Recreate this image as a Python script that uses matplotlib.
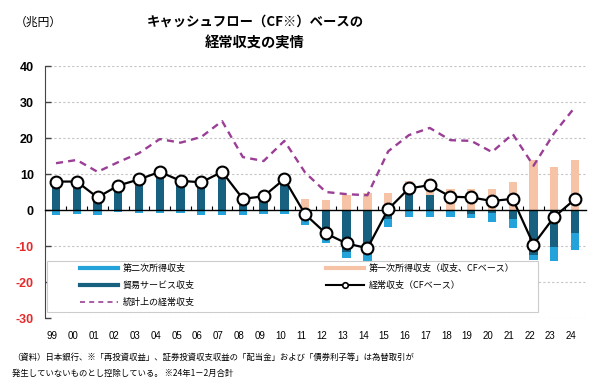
"""Cash-flow based current account chart (Japan)."""
import matplotlib
matplotlib.use("Agg")
import matplotlib.pyplot as plt
import matplotlib.transforms as mtransforms
from matplotlib.lines import Line2D
from matplotlib.patches import Rectangle
import numpy as np

plt.rcParams["font.family"] = ["Noto Sans CJK JP", "DejaVu Sans"]

years = ["99", "00", "01", "02", "03", "04", "05", "06", "07", "08", "09", "10", "11",
         "12", "13", "14", "15", "16", "17", "18", "19", "20", "21", "22", "23", "24"]

# 第一次所得収支（収支、CFベース）
primary_cf = [0, 0, 0, 0, 0, 0, 0, 0, 0, 0, 0, 0, 3.0,
              2.8, 4.2, 4.7, 4.8, 3.6, 4.6, 5.6, 5.7, 5.7, 7.9, 13.9, 12.0, 13.9]
# 貿易サービス収支
trade = [8.2, 8.2, 3.8, 7.1, 8.8, 10.9, 8.4, 8.0, 10.9, 3.4, 4.1, 8.9, -2.4,
         -7.9, -11.6, -12.2, -2.4, 4.4, 4.1, 0.1, -1.1, -0.7, -2.5, -12.5, -10.2, -6.5]
# 第二次所得収支
secondary = [-1.4, -1.1, -1.4, -0.6, -0.9, -0.9, -0.9, -1.4, -1.4, -1.4, -1.1, -1.1, -1.9,
             -1.4, -1.8, -1.9, -2.3, -2.0, -2.0, -2.0, -1.2, -2.5, -2.4, -1.3, -3.9, -4.6]
# 経常収支（CFベース）
cf_balance = [7.9, 7.9, 3.5, 6.8, 8.5, 10.6, 8.1, 7.7, 10.6, 3.1, 3.8, 8.6, -1.2,
              -6.5, -9.3, -10.6, 0.2, 6.0, 6.9, 3.7, 3.5, 2.5, 3.1, -9.6, -1.9, 3.0]
# 統計上の経常収支
stat_balance = [13.0, 13.9, 10.6, 13.3, 15.8, 19.7, 18.7, 20.3, 24.7, 14.7, 13.6, 19.2, 10.4,
                5.0, 4.4, 4.1, 16.3, 20.8, 22.8, 19.4, 19.2, 16.1, 21.1, 12.3, 21.4, 28.6]

yticks = [40, 30, 20, 10, 0, -10, -20, -30]

C_LIGHT = "#23a3da"
C_DARK = "#17607f"
C_PINK = "#f6c3a6"
C_PURPLE = "#9a3f95"
C_RED = "#e62a2a"

fig = plt.figure(figsize=(6, 3.91), dpi=100)
axe = fig.add_axes([0.075, 0.1867, 0.9017, 0.6445])

x = np.arange(len(years))
trade = np.array(trade)
width = 0.4

pos_base = np.maximum(trade, 0)
neg_base = np.minimum(trade, 0)
axe.bar(x, trade, width, color=C_DARK, zorder=2)
axe.bar(x, primary_cf, width, bottom=pos_base, color=C_PINK, zorder=2)
axe.bar(x, secondary, width, bottom=neg_base, color=C_LIGHT, zorder=2)

axe.plot(x, stat_balance, color=C_PURPLE, lw=1.7, dashes=(3, 2.2), zorder=4)
axe.plot(x, cf_balance, color="black", lw=1.6, marker="o", ms=8.5,
         mfc="white", mec="black", mew=1.5, zorder=5)

axe.set_xlim(-0.53, 25.53)
axe.set_ylim(-30, 40)

# y axis
axe.set_yticks(yticks)
axe.set_yticklabels([str(v) for v in yticks], fontweight="bold", fontsize=9,
                    family=["Liberation Sans", "DejaVu Sans"])
for lab, v in zip(axe.get_yticklabels(), yticks):
    lab.set_color(C_RED if v < 0 else "black")
axe.tick_params(axis="y", direction="in", length=4, width=1, color="#444444", pad=8)
for v in yticks:
    if v != 0:
        axe.axhline(v, color="#c4c4c4", lw=0.8, dashes=(2, 2), zorder=0)

# zero line with small category ticks
for side in ("top", "right"):
    axe.spines[side].set_visible(False)
axe.spines["left"].set_color("#444444")
axe.spines["bottom"].set_position(("data", 0))
axe.spines["bottom"].set_zorder(3)
axe.spines["bottom"].set_linewidth(1.0)
axe.set_xticks(x[:-1] + 0.5)
axe.set_xticklabels([])
axe.tick_params(axis="x", direction="in", length=3, width=0.8)

# year labels at the bottom
sec = axe.secondary_xaxis(0)
sec.set_xticks(x)
sec.set_xticklabels(years, fontsize=7, family=["Liberation Sans", "DejaVu Sans"])
sec.tick_params(length=0, pad=9)
sec.spines["bottom"].set_visible(False)
shift = mtransforms.ScaledTranslation(-4 / 100, 0, fig.dpi_scale_trans)
for lab in sec.get_xticklabels():
    lab.set_transform(lab.get_transform() + shift)

# legend box
axe.add_patch(Rectangle((0.004, 0.024), 0.907, 0.202, transform=axe.transAxes,
                        facecolor="white", edgecolor="#cccccc", lw=0.8, zorder=6))
left_handles = [
    Line2D([], [], color=C_LIGHT, lw=3),
    Line2D([], [], color=C_DARK, lw=3),
    Line2D([], [], color=C_PURPLE, lw=1.2, dashes=(3, 2.5)),
]
left_labels = ["第二次所得収支", "貿易サービス収支", "統計上の経常収支"]
right_handles = [
    Line2D([], [], color=C_PINK, lw=3),
    Line2D([], [], color="black", lw=1.5, marker="o", ms=4, mfc="white", mew=1.2),
]
right_labels = ["第一次所得収支（収支、CFベース）", "経常収支（CFベース）"]

leg_kw = dict(frameon=False, fontsize=6.5, handlelength=4.2, handletextpad=0.55,
              labelspacing=0.85, borderpad=0, borderaxespad=0, loc="upper left")
leg1 = axe.legend(left_handles, left_labels, bbox_to_anchor=(0.0647, 0.214), **leg_kw)
leg1.set_zorder(7)
axe.add_artist(leg1)
leg2 = axe.legend(right_handles, right_labels, bbox_to_anchor=(0.519, 0.214), **leg_kw)
leg2.set_zorder(7)

# titles and notes
fig.text(0.025, 0.944, "（兆円）", fontsize=8.5, va="center")
fig.text(0.425, 0.944, "キャッシュフロー（CF※）ベースの", fontsize=9.6, fontweight="bold",
         ha="center", va="center")
fig.text(0.425, 0.890, "経常収支の実情", fontsize=10.3, fontweight="bold",
         ha="center", va="center")
fig.text(0.02, 0.087, "（資料）日本銀行、※「再投資収益」、証券投資収支収益の「配当金」および「債券利子等」は為替取引が",
         fontsize=6.0, va="center")
fig.text(0.02, 0.044, "発生していないものとし控除している。 ※24年1－2月合計",
         fontsize=6.0, va="center")

fig.savefig("out.png", dpi=100)
